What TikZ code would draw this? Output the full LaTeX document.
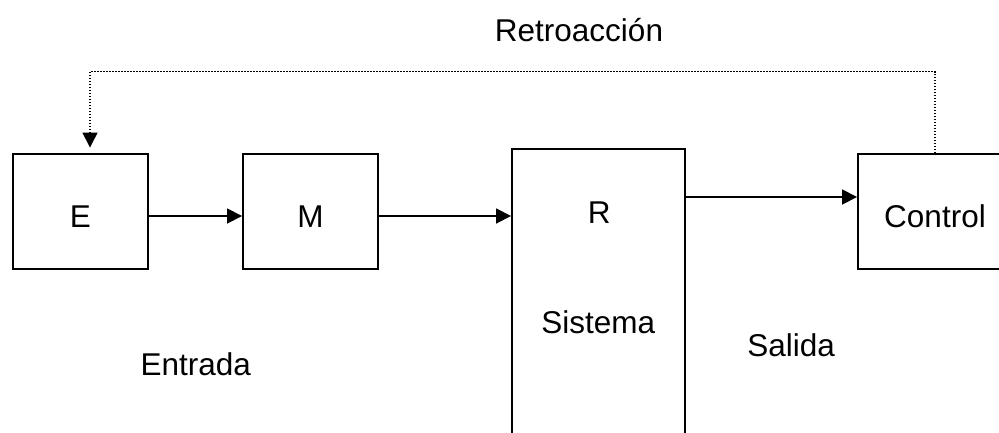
\documentclass[tikz,border=0pt]{standalone}
\usepackage{fontspec}
\setmainfont{Liberation Sans}
\usetikzlibrary{arrows.meta}
\begin{document}
\begin{tikzpicture}[x=1pt,y=-1pt,
  txt/.style={font=\fontsize{31.5}{37}\selectfont},
  box/.style={txt, draw, line width=1.9pt, rectangle, inner sep=0pt, minimum height=115pt, text height=32.4pt, text depth=0pt},
  lbl/.style={txt, inner sep=0pt, anchor=base},
  arr/.style={line width=1.7pt, -{Triangle[length=15pt,width=15pt]}},
  fb/.style={line width=1.3pt, dash pattern=on 1.3pt off 1.7pt, -{Triangle[length=15pt,width=15pt]}, shorten >=5.5pt}]
\useasboundingbox (0,0) rectangle (999,432);
\fill[white] (0,0) rectangle (999,432);
\clip (0,0) rectangle (999,432);
% boxes
\node[box, minimum width=135pt] (E) at (80.5,211.5) {E};
\node[box, minimum width=135pt] (M) at (310.5,211.5) {M};
\node[box, minimum width=154pt] (Control) at (935,211.5) {Control};
\node[box, minimum width=173pt, minimum height=320pt] (R) at (598.5,309) {};
% texts
\node[lbl] (Rtxt) at (599.3,223.3) {R};
\node[lbl] (Sistema) at (598.3,333.3) {Sistema};
\node[lbl] (Entrada) at (195.8,375) {Entrada};
\node[lbl] (Salida) at (791.2,356.7) {Salida};
\node[lbl] (Retro) at (579,41.7) {Retroacción};
% connectors
\draw[arr] ([yshift=-4.5pt]E.east) -- ([yshift=-4.5pt]M.west);
\draw[arr] ([yshift=-4.5pt]M.east) -- ([yshift=-4.5pt]M.east -| R.west);
\draw[arr] ([yshift=14.5pt]Control.west -| R.east) -- ([yshift=14.5pt]Control.west);
\draw[fb] (Control.north) -- ++(0,-81.5) -| ([xshift=9.5pt]E.north);
\end{tikzpicture}
\end{document}
